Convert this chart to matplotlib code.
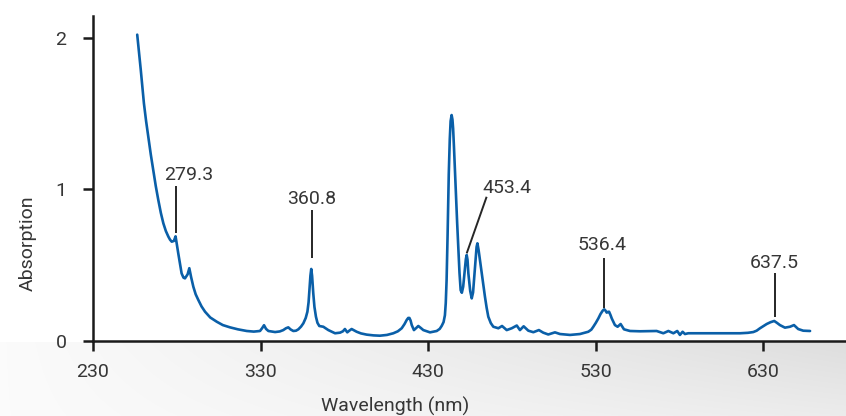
import numpy as np
import matplotlib
matplotlib.use("Agg")
import matplotlib.pyplot as plt

plt.rcParams['font.family'] = ['Roboto', 'DejaVu Sans']

# ---- data ----
wavelength_nm = [
    256.4, 257.5, 258.5, 259.5, 260.4, 261.7, 263.0, 264.5, 266.0, 267.5,
    269.0, 270.5, 272.0, 273.5, 275.0, 276.0, 277.0, 278.3, 279.3, 280.1,
    280.9, 282.9, 284.0, 284.9, 286.5, 287.5, 288.6, 289.9, 291.3, 292.9,
    294.8, 296.9, 300.0, 303.9, 307.5, 311.8, 316.5, 321.8, 326.0, 329.7,
    331.0, 332.1, 333.3, 334.7, 338.7, 341.5, 343.6, 345.2, 346.6, 348.0,
    349.6, 351.2, 352.6, 354.2, 355.6, 357.0, 358.0, 358.7, 359.2, 359.8,
    360.3, 360.8, 361.5, 362.2, 363.1, 364.0, 365.1, 367.5, 370.5, 374.5,
    377.5, 379.2, 380.4, 381.8, 383.0, 384.4, 387.4, 390.0, 393.4, 397.5,
    401.3, 405.5, 409.3, 412.0, 414.3, 416.0, 417.3, 418.2, 418.9, 419.6,
    420.3, 421.6, 422.9, 424.2, 425.7, 427.2, 431.2, 435.2, 437.0, 438.2,
    439.3, 440.1, 440.6, 441.1, 441.7, 442.4, 443.0, 443.5, 444.1, 444.6,
    445.0, 445.5, 446.1, 446.7, 447.4, 448.1, 448.8, 449.5, 450.2, 451.0,
    452.0, 452.6, 453.1, 453.6, 454.1, 455.2, 456.1, 456.9, 457.6, 458.4,
    459.0, 459.5, 460.2, 461.0, 461.6, 462.4, 463.2, 464.0, 465.0, 466.0,
    467.5, 469.0, 472.0, 474.2, 477.0, 480.0, 483.0, 484.9, 487.1, 489.9,
    492.9, 496.2, 498.8, 501.8, 505.8, 508.8, 514.8, 520.7, 525.7, 527.5,
    528.7, 530.2, 531.7, 533.0, 534.3, 535.2, 536.0, 536.7, 537.5, 538.1,
    539.0, 539.7, 541.6, 543.2, 545.0, 547.0, 550.6, 556.6, 566.5, 570.5,
    573.5, 576.5, 578.8, 580.4, 582.0, 583.4, 585.4, 596.3, 616.3, 621.0,
    624.2, 626.2, 628.2, 630.2, 632.2, 634.5, 636.7, 638.3, 640.1, 643.1,
    646.1, 648.5, 651.0, 654.0, 658.1,
]
absorption = [
    2.02, 1.90, 1.79, 1.67, 1.567, 1.45, 1.347, 1.23, 1.127, 1.02,
    0.929, 0.845, 0.776, 0.725, 0.688, 0.668, 0.655, 0.660, 0.690, 0.632,
    0.578, 0.446, 0.418, 0.413, 0.440, 0.480, 0.420, 0.358, 0.308, 0.270,
    0.228, 0.193, 0.155, 0.127, 0.105, 0.090, 0.077, 0.066, 0.062, 0.066,
    0.085, 0.104, 0.080, 0.066, 0.059, 0.063, 0.072, 0.084, 0.090, 0.076,
    0.066, 0.068, 0.077, 0.095, 0.117, 0.152, 0.193, 0.255, 0.336, 0.430,
    0.475, 0.430, 0.315, 0.225, 0.160, 0.120, 0.099, 0.094, 0.072, 0.051,
    0.055, 0.064, 0.079, 0.057, 0.068, 0.079, 0.061, 0.050, 0.042, 0.037,
    0.035, 0.040, 0.051, 0.064, 0.084, 0.112, 0.139, 0.152, 0.152, 0.135,
    0.105, 0.072, 0.085, 0.099, 0.086, 0.072, 0.057, 0.066, 0.080, 0.100,
    0.125, 0.170, 0.25, 0.40, 0.70, 1.10, 1.33, 1.45, 1.49, 1.46,
    1.40, 1.28, 1.12, 0.95, 0.78, 0.62, 0.45, 0.335, 0.318, 0.358,
    0.47, 0.540, 0.567, 0.535, 0.446, 0.330, 0.281, 0.320, 0.420, 0.540,
    0.620, 0.644, 0.600, 0.534, 0.480, 0.424, 0.355, 0.292, 0.220, 0.160,
    0.118, 0.094, 0.084, 0.099, 0.072, 0.084, 0.102, 0.072, 0.097, 0.068,
    0.058, 0.072, 0.055, 0.043, 0.057, 0.046, 0.040, 0.046, 0.061, 0.075,
    0.094, 0.120, 0.149, 0.178, 0.200, 0.209, 0.200, 0.187, 0.192, 0.193,
    0.170, 0.149, 0.105, 0.094, 0.112, 0.077, 0.066, 0.064, 0.066, 0.051,
    0.066, 0.051, 0.066, 0.040, 0.061, 0.046, 0.051, 0.051, 0.051, 0.054,
    0.059, 0.068, 0.084, 0.098, 0.112, 0.124, 0.132, 0.120, 0.105, 0.088,
    0.094, 0.105, 0.079, 0.068, 0.066,
]

peak_labels = ["279.3", "360.8", "453.4", "536.4", "637.5"]
peak_wavelengths = [279.3, 360.8, 453.4, 536.4, 637.5]

x_ticks = [230, 330, 430, 530, 630]
y_ticks = [0, 1, 2]

# ---- layout / style ----
W, H = 846, 416
fig = plt.figure(figsize=(W / 100, H / 100), dpi=100)
fig.patch.set_facecolor("white")

# grey gradient band at the bottom
band_top = 342
bg = fig.add_axes([0, 0, 1, (H - band_top) / H], zorder=0)
nx, ny = 300, 60
xf = np.linspace(0, 1, nx)[None, :]
yf = np.linspace(0, 1, ny)[:, None]
gray = 0.985 - xf * (0.115 - 0.055 * yf)
bg.imshow(np.dstack([gray, gray, gray]), aspect="auto", extent=[0, 1, 0, 1],
          interpolation="bilinear")
bg.set_axis_off()

x0 = 230.0
px_per_nm = 1.675
y_px_per_unit = 151.65
ax_left, ax_bottom_px, ax_top_px = 93, 341, 16
ax = fig.add_axes([ax_left / W, (H - ax_bottom_px) / H,
                   (W - ax_left) / W, (ax_bottom_px - ax_top_px) / H], zorder=2)
ax.set_facecolor("none")
ax.set_xlim(x0, x0 + (W - ax_left) / px_per_nm)
ax.set_ylim(0, (ax_bottom_px - ax_top_px) / y_px_per_unit)

line_color = "#0a5fa8"
ax.plot(wavelength_nm, absorption, color=line_color, lw=1.9,
        solid_joinstyle="round", solid_capstyle="round", zorder=3)

for s in ["top", "right"]:
    ax.spines[s].set_visible(False)
for s in ["left", "bottom"]:
    ax.spines[s].set_linewidth(1.8)
    ax.spines[s].set_color("#1a1a1a")

text_color = "#363636"
ax.set_xticks(x_ticks)
ax.set_yticks(y_ticks)
ax.set_xticklabels([str(t) for t in x_ticks])
ax.set_yticklabels([str(t) for t in y_ticks])
ax.tick_params(axis="x", length=7, width=1.8, color="#1a1a1a", pad=9,
               labelsize=14, labelcolor=text_color)
ax.tick_params(axis="y", length=7, width=1.8, color="#1a1a1a", pad=12,
               labelsize=14, labelcolor=text_color)

# annotations (line segments and labels, placed to match the reference)
ann_color = "#262626"
line_segments = [
    ((279.3, 0.71), (279.3, 1.02)),
    ((360.8, 0.545), (360.8, 0.866)),
    ((453.1, 0.578), (465.0, 0.951)),
    ((534.8, 0.215), (534.8, 0.545)),
    ((637.3, 0.160), (637.3, 0.446)),
]
text_pos = [(287.3, 1.062), (360.5, 0.903), (476.9, 0.974),
            (533.8, 0.600), (636.5, 0.479)]
for lab, (p0, p1), (tx, ty) in zip(peak_labels, line_segments, text_pos):
    ax.plot([p0[0], p1[0]], [p0[1], p1[1]], color=ann_color, lw=1.4,
            solid_capstyle="butt", zorder=4)
    ax.text(tx, ty, lab, ha="center", va="baseline", fontsize=14,
            color=text_color, zorder=5)

fig.text(28 / W, 1 - 243 / H, "Absorption", rotation=90, ha="center",
         va="center", fontsize=14, color=text_color)
fig.text(395 / W, 1 - 406 / H, "Wavelength (nm)", ha="center", va="center",
         fontsize=14, color=text_color)

fig.savefig("out.png", dpi=100, facecolor="white")
